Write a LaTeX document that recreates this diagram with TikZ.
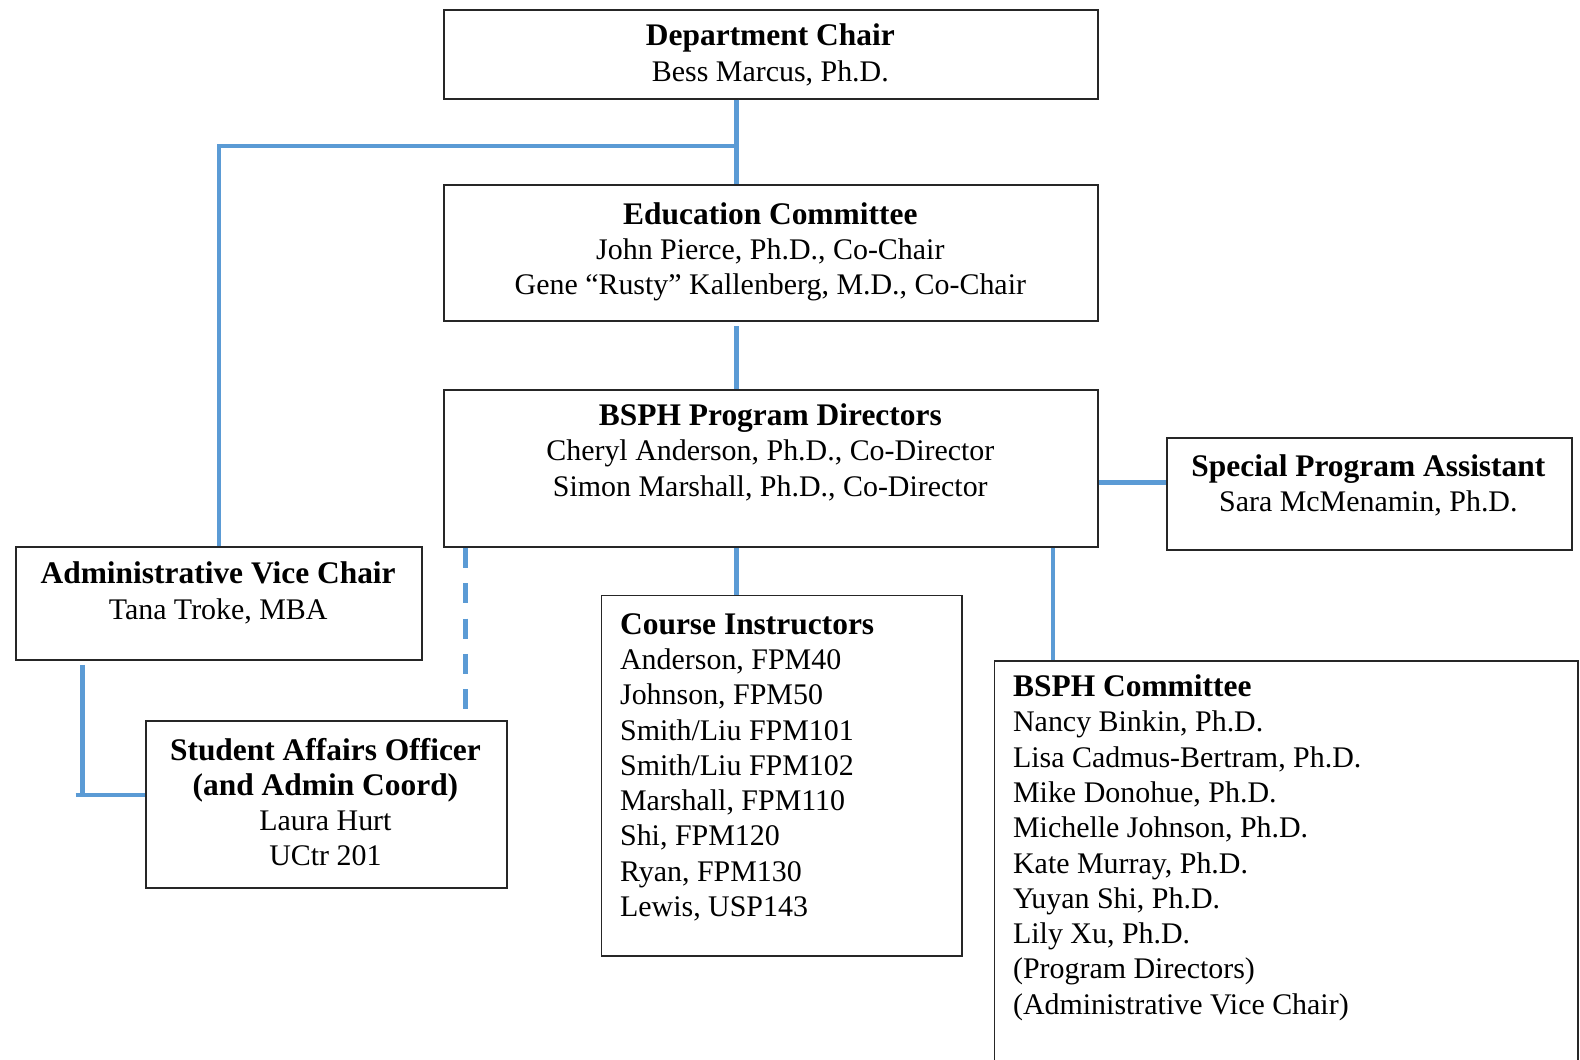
\documentclass[tikz,border=0pt]{standalone}
\usepackage{fontspec}
\setmainfont{Liberation Serif}
\definecolor{lineblue}{RGB}{91,155,213}
\newcommand\rgf{\fontsize{14.85}{17.5}\selectfont}
\newcommand\bdf{\fontsize{15.6}{17.5}\selectfont\bfseries}
\newcommand\fst{\rule{0pt}{12pt}}
\tikzset{
  box/.style={draw=black!85, line width=0.9pt, inner sep=0, anchor=north west},
  conn/.style={draw=lineblue, line width=2.2pt},
  txt/.style={anchor=north, inner sep=0, align=center, font=\rgf},
  txtl/.style={anchor=north west, inner sep=0, align=left, font=\rgf},
}
\begin{document}
\begin{tikzpicture}[x=0.5pt,y=-0.5pt]
\useasboundingbox (0,0) rectangle (1568,1051);
\fill[white] (0,0) rectangle (1568,1051);
% boxes
\node[box, minimum width=324.5pt, minimum height=44pt] (dc) at (440,9) {};
\node[box, minimum width=324.5pt, minimum height=67.5pt] (edu) at (440,183) {};
\node[box, minimum width=324.5pt, minimum height=78pt] (pd) at (440,386) {};
\node[box, minimum width=201pt, minimum height=55.5pt] (spa) at (1157,434) {};
\node[box, minimum width=201.5pt, minimum height=56pt] (avc) at (15,542) {};
\node[box, minimum width=179pt, minimum height=82.5pt] (sao) at (144,715) {};
\node[box, minimum width=179pt, minimum height=179pt] (ci) at (596,590) {};
\node[box, minimum width=289.5pt, minimum height=220pt] (bc) at (986,655) {};
% texts
\node[txt] (dct) at (764.5,21) {\fst{\bdf Department Chair}\\Bess Marcus, Ph.D.};
\node[txt] (edut) at (764.5,198) {\fst{\bdf Education Committee}\\John Pierce, Ph.D., Co-Chair\\Gene “Rusty” Kallenberg, M.D., Co-Chair};
\node[txt] (pdt) at (764.5,398) {\fst{\bdf BSPH Program Directors}\\Cheryl Anderson, Ph.D., Co-Director\\Simon Marshall, Ph.D., Co-Director};
\node[txt] (spat) at (1358,448) {\fst{\bdf Special Program Assistant}\\Sara McMenamin, Ph.D.};
\node[txt] (avct) at (216.5,555) {\fst{\bdf Administrative Vice Chair}\\Tana Troke, MBA};
\node[txt] (saot) at (323,730) {\fst{\bdf Student Affairs Officer}\\{\bdf (and Admin Coord)}\\Laura Hurt\\UCtr 201};
\node[txtl] (cit) at (615,605) {\fst{\bdf Course Instructors}\\Anderson, FPM40\\Johnson, FPM50\\Smith/Liu FPM101\\Smith/Liu FPM102\\Marshall, FPM110\\Shi, FPM120\\Ryan, FPM130\\Lewis, USP143};
\node[txtl] (bct) at (1005,667) {\fst{\bdf BSPH Committee}\\Nancy Binkin, Ph.D.\\Lisa Cadmus-Bertram, Ph.D.\\Mike Donohue, Ph.D.\\Michelle Johnson, Ph.D.\\Kate Murray, Ph.D.\\Yuyan Shi, Ph.D.\\Lily Xu, Ph.D.\\(Program Directors)\\(Administrative Vice Chair)};
% connectors
\coordinate (j) at (731,145);
\coordinate (k) at (0,479);
\coordinate (m) at (1045,0);
\coordinate (d) at (462,705);
\coordinate (e) at (82,789);
\coordinate (e2) at (75,789);
\draw[conn] (j |- dc.south) -- (j |- edu.north);
\draw[conn] (j) -- (j -| avc.north) -- (avc.north);
\draw[conn] ([yshift=-2pt]j |- edu.south) -- (j |- pd.north);
\draw[conn] (pd.east |- k) -- (spa.west |- k);
\draw[conn] (j |- pd.south) -- (j |- ci.north);
\draw[conn] (m |- pd.south) -- (m |- bc.north);
\draw[conn, dash pattern=on 10pt off 7.5pt] (d |- pd.south) -- (d);
\draw[conn] ([yshift=-2pt]e |- avc.south) -- (e);
\draw[conn] (e2) -- (e2 -| sao.west);
\end{tikzpicture}
\end{document}
